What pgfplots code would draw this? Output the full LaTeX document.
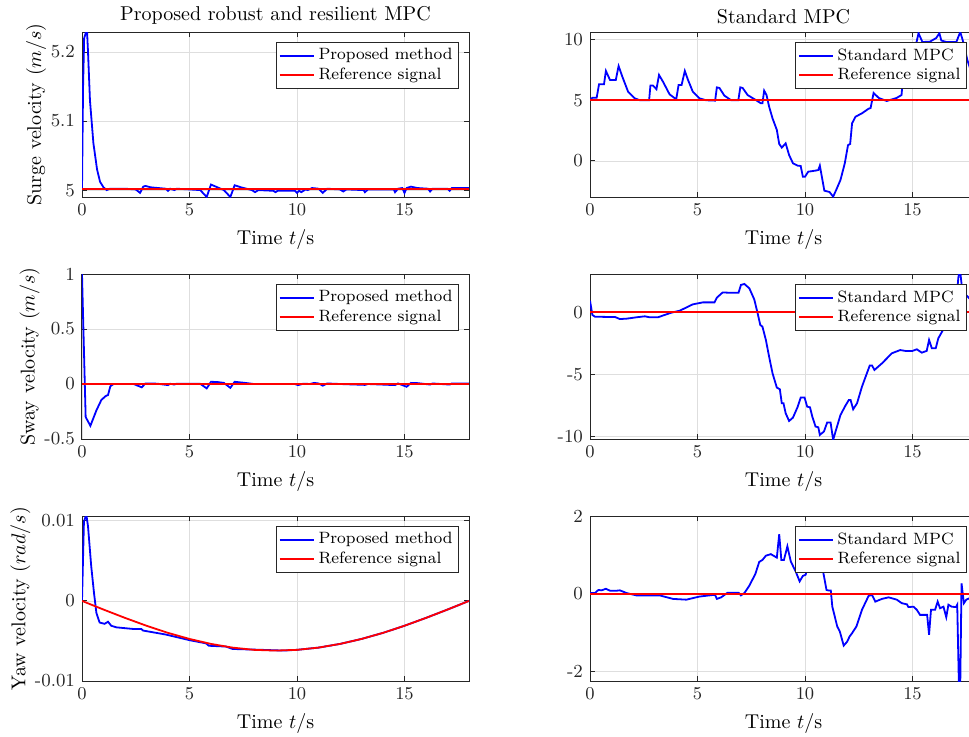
\documentclass[border=0pt]{standalone}
\usepackage{pgfplots}
\pgfplotsset{compat=1.18}
\definecolor{axgray}{rgb}{0.15,0.15,0.15}
\pgfplotsset{
 every axis title/.style={at={(0.5,1)}, anchor=south, yshift=0.5pt},
 myax/.style={scale only axis, width=193.5pt, height=82.5pt, xmin=0, xmax=18,
  xtick={0,5,10,15}, grid=major, major grid style={black!13, line width=0.4pt},
  axis line style={color=axgray, line width=0.5pt},
  tick style={color=axgray, line width=0.5pt}, major tick length=2.5pt,
  scaled y ticks=false, scaled x ticks=false,
  ticklabel style={font=\fontsize{9.2}{10}\selectfont, text=axgray},
  label style={font=\fontsize{10}{12}\selectfont},
  title style={font=\fontsize{10}{12}\selectfont},
  ylabel shift=-4.5pt,
  xlabel={Time $t/$s},
  legend style={font=\fontsize{8.2}{9.5}\selectfont, draw=axgray, line width=0.5pt,
   at={(1,1)}, xshift=-5pt, yshift=-5pt, anchor=north east, inner sep=1pt,
   row sep=-1.5pt},
  legend cell align=left,
  legend image code/.code={\draw[##1] (0pt,0pt) -- (17pt,0pt);},
  every axis plot/.append style={line width=0.9pt},
 },
 bl/.style={color=blue, line width=0.9pt},
 rd/.style={color=red, line width=0.9pt},
}
\begin{document}
\begin{tikzpicture}
\useasboundingbox (0,0) rectangle (484.5pt,368pt);
% ---------- Panel 1
\begin{axis}[myax, anchor=south west, at={(41pt,269.5pt)},
 ymin=4.99, ymax=5.229, ytick={5,5.1,5.2}, yticklabels={5,5.1,5.2},
 title={Proposed robust and resilient MPC}, ylabel={Surge velocity $(m/s)$}]
\addplot[bl] coordinates {(0,5.0)(0.05,5.15)(0.1,5.22)(0.16,5.226)(0.22,5.24)(0.28,5.2)(0.37,5.13)(0.53,5.068)(0.7,5.03)(0.84,5.012)(1.0,5.004)(1.15,5.0)(1.3,5.002)(2.0,5.002)(2.5,5.001)(2.7,4.996)(2.85,5.005)(2.95,5.006)(3.2,5.004)(3.9,5.002)(4.0,4.999)(4.1,5.002)(4.3,5.0)(4.4,5.002)(5.0,5.001)(5.5,5.0)(5.8,4.99)(6.0,5.008)(6.3,5.004)(6.6,5.0)(6.9,4.99)(7.1,5.007)(7.4,5.004)(7.9,5.0)(8.05,4.997)(8.2,5.0)(8.9,4.999)(9.0,4.997)(9.1,4.999)(9.9,4.999)(10.0,4.996)(10.1,4.999)(10.2,4.997)(10.4,5.001)(10.5,5.0)(10.7,5.003)(11.0,5.002)(11.2,4.996)(11.4,5.002)(12.0,5.001)(12.15,4.998)(12.3,5.001)(13.1,5.0)(13.16,4.997)(13.3,5.001)(14.5,5.001)(14.56,4.997)(14.7,5.002)(14.9,5.003)(15.0,4.996)(15.1,5.003)(15.3,5.005)(15.6,5.003)(16.1,5.002)(16.19,4.998)(16.3,5.002)(17.0,5.002)(17.1,4.999)(17.2,5.003)(18,5.003)};
\addplot[rd] coordinates {(0,5.002)(18,5.002)};
\legend{Proposed method, Reference signal}
\end{axis}
% ---------- Panel 2
\begin{axis}[myax, anchor=south west, at={(295pt,269.5pt)},
 ymin=-2.96, ymax=10.6, ytick={0,5,10}, yticklabels={0,5,10},
 title={Standard MPC}]
\addplot[bl] coordinates {(0,5.0)(0.11,5.2)(0.31,5.2)(0.42,6.3)(0.65,6.3)(0.74,7.4)(0.93,6.66)(1.2,6.66)(1.33,7.8)(1.51,6.9)(1.77,5.7)(2.08,5.15)(2.31,5.0)(2.75,5.0)(2.81,6.2)(2.93,6.2)(3.09,5.9)(3.21,7.07)(3.4,6.5)(3.7,5.48)(4.01,5.07)(4.12,6.25)(4.26,6.25)(4.41,7.4)(4.55,6.7)(4.78,5.7)(5.09,5.15)(5.4,4.99)(5.82,4.96)(5.9,6.05)(6.02,6.0)(6.25,5.37)(6.56,5.0)(6.9,5.0)(6.99,6.05)(7.1,6.0)(7.33,5.42)(7.72,5.0)(7.95,4.74)(8.02,4.74)(8.1,5.78)(8.21,5.42)(8.33,4.47)(8.49,3.5)(8.69,2.55)(8.8,1.4)(8.92,1.1)(9.1,1.45)(9.26,0.49)(9.44,-0.19)(9.65,-0.38)(9.8,-0.41)(9.9,-1.29)(10.0,-1.29)(10.15,-0.88)(10.49,-0.79)(10.62,-0.74)(10.69,-0.38)(10.9,-2.44)(11.14,-2.55)(11.31,-2.93)(11.45,-2.38)(11.65,-1.56)(11.85,-0.19)(12.0,1.3)(12.1,1.4)(12.19,3.1)(12.35,3.64)(12.65,3.92)(12.96,4.3)(13.05,4.35)(13.19,5.59)(13.43,5.18)(13.8,4.93)(14.26,5.18)(14.49,5.42)(14.54,6.5)(14.8,8.5)(15.0,9.4)(15.19,9.78)(15.28,10.5)(15.46,9.78)(15.8,9.8)(16.1,10.1)(16.25,10.5)(16.34,9.9)(16.57,9.78)(17.04,9.78)(17.22,10.6)(17.36,9.78)(17.55,8.3)(17.7,7.5)};
\addplot[rd] coordinates {(0,5)(18,5)};
\legend{Standard MPC, Reference signal}
\end{axis}
% ---------- Panel 3
\begin{axis}[myax, anchor=south west, at={(41pt,148.5pt)},
 ymin=-0.5, ymax=1, ytick={-0.5,0,0.5,1}, yticklabels={-0.5,0,0.5,1},
 ylabel={Sway velocity $(m/s)$}]
\addplot[bl] coordinates {(0,1.0)(0.17,-0.3)(0.39,-0.38)(0.67,-0.24)(0.9,-0.145)(1.1,-0.11)(1.21,-0.1)(1.32,-0.02)(1.47,0.0)(2.4,0.0)(2.78,-0.03)(2.95,0.005)(3.5,0.003)(4.0,-0.01)(4.1,0.002)(4.3,-0.005)(4.4,0.003)(5.5,0.002)(5.8,-0.04)(6.0,0.02)(6.3,0.018)(6.6,0.01)(6.9,-0.035)(7.1,0.02)(7.5,0.012)(8.0,0.0)(9,0)(9.9,0.0)(10.05,-0.01)(10.3,0.003)(10.6,0.0)(10.8,0.01)(11.0,0.005)(11.2,-0.015)(11.4,0.005)(12,0.0)(13.16,-0.008)(13.3,0.0)(14.56,-0.01)(14.7,0.005)(15.1,-0.025)(15.3,0.01)(15.6,0.008)(16.2,-0.005)(16.3,0.005)(17.1,-0.005)(17.2,0.005)(18,0.005)};
\addplot[rd] coordinates {(0,0)(18,0)};
\legend{Proposed method, Reference signal}
\end{axis}
% ---------- Panel 4
\begin{axis}[myax, anchor=south west, at={(295pt,148.5pt)},
 ymin=-10.18, ymax=3.08, ytick={-10,-5,0}, yticklabels={-10,-5,0}]
\addplot[bl] coordinates {(0,0.94)(0.11,-0.21)(0.23,-0.35)(0.77,-0.37)(1.16,-0.37)(1.39,-0.54)(1.7,-0.51)(2.16,-0.4)(2.55,-0.32)(2.78,-0.4)(3.16,-0.4)(3.47,-0.21)(3.78,-0.03)(4.17,0.13)(4.4,0.32)(4.78,0.64)(5.25,0.8)(5.79,0.8)(5.9,1.18)(6.17,1.6)(6.4,1.58)(6.91,1.58)(7.02,2.2)(7.18,2.28)(7.41,1.93)(7.64,1.04)(7.79,-0.03)(7.92,-1.02)(8.02,-1.15)(8.18,-2.22)(8.33,-3.56)(8.49,-4.9)(8.69,-6.05)(8.83,-6.18)(8.92,-7.31)(9.0,-7.31)(9.1,-8.11)(9.26,-8.73)(9.44,-8.46)(9.65,-7.63)(9.8,-6.85)(9.98,-6.85)(10.1,-7.58)(10.23,-7.63)(10.34,-8.38)(10.49,-9.18)(10.62,-9.24)(10.69,-9.85)(10.88,-9.58)(11.03,-8.86)(11.19,-8.86)(11.31,-10.25)(11.42,-9.58)(11.65,-8.25)(11.88,-7.5)(12.04,-7.04)(12.12,-7.04)(12.24,-7.79)(12.42,-7.31)(12.65,-5.97)(13.01,-4.28)(13.12,-4.28)(13.23,-4.63)(13.58,-4.1)(14.04,-3.29)(14.43,-3.03)(14.66,-3.1)(15.0,-3.1)(15.2,-2.97)(15.43,-3.24)(15.66,-3.1)(15.77,-2.22)(15.9,-2.89)(16.08,-2.89)(16.2,-2.09)(16.44,-1.35)(16.7,-0.6)(16.95,0.3)(17.05,1.15)(17.13,2.75)(17.2,3.55)(17.3,2.0)(17.43,1.15)(17.55,1.3)(17.7,1.0)};
\addplot[rd] coordinates {(0,0)(18,0)};
\legend{Standard MPC, Reference signal}
\end{axis}
% ---------- Panel 5
\begin{axis}[myax, anchor=south west, at={(41pt,27.5pt)},
 ymin=-0.01, ymax=0.0106, ytick={-0.01,0,0.01}, yticklabels={-0.01,0,0.01},
 ylabel={Yaw velocity $(rad/s)$}]
\addplot[bl] coordinates {(0,0)(0.09,0.00988)(0.2,0.0108)(0.28,0.0093)(0.43,0.0043)(0.56,0.00095)(0.67,-0.0015)(0.82,-0.0027)(1.05,-0.00286)(1.21,-0.0026)(1.36,-0.0031)(1.6,-0.0033)(2.37,-0.0035)(2.76,-0.0035)(2.84,-0.0037)(3.9,-0.0042)(5.0,-0.0049)(5.77,-0.0053)(5.9,-0.0056)(6.7,-0.0057)(7.0,-0.006)(8.27,-0.0061)(9.35,-0.0062)(10,-0.00611)(11,-0.00583)(12,-0.00537)(13,-0.00475)(14,-0.00399)(15,-0.0031)(16,-0.00212)(17,-0.00108)(18,0)};
\addplot[rd] coordinates {(0,0)(1,-0.00108)(2,-0.00212)(3,-0.0031)(4,-0.00399)(5,-0.00475)(6,-0.00537)(7,-0.00583)(8,-0.00611)(9,-0.0062)(10,-0.00611)(11,-0.00583)(12,-0.00537)(13,-0.00475)(14,-0.00399)(15,-0.0031)(16,-0.00212)(17,-0.00108)(18,0)};
\legend{Proposed method, Reference signal}
\end{axis}
% ---------- Panel 6
\begin{axis}[myax, anchor=south west, at={(295pt,27.5pt)},
 ymin=-2.24, ymax=2.0, ytick={-2,0,2}, yticklabels={-2,0,2}]
\addplot[bl] coordinates {(0,0.02)(0.23,0.02)(0.39,0.1)(0.54,0.09)(0.74,0.13)(0.93,0.08)(1.23,0.08)(1.39,0.09)(1.7,0.02)(2.16,-0.04)(2.62,-0.04)(3.24,-0.04)(3.86,-0.13)(4.48,-0.15)(5.09,-0.07)(5.71,-0.03)(5.82,-0.03)(5.9,-0.13)(6.1,-0.09)(6.4,0.03)(6.91,0.03)(7.02,-0.04)(7.18,0.02)(7.41,0.21)(7.69,0.51)(7.87,0.82)(8.02,0.87)(8.18,0.98)(8.41,1.02)(8.69,0.93)(8.8,1.53)(8.9,0.87)(9.02,0.87)(9.18,1.22)(9.34,0.83)(9.57,0.57)(9.75,0.32)(9.9,0.46)(10.03,0.49)(10.1,0.66)(10.3,0.9)(10.6,0.95)(10.8,0.7)(11.0,0.1)(11.1,0.086)(11.2,0.086)(11.27,-0.33)(11.5,-0.84)(11.62,-0.97)(11.8,-1.33)(11.96,-1.23)(12.07,-1.1)(12.19,-1.01)(12.39,-0.84)(12.65,-0.41)(12.96,-0.05)(13.12,-0.03)(13.27,-0.2)(13.58,-0.13)(13.89,-0.09)(14.27,-0.15)(14.5,-0.24)(14.74,-0.27)(14.81,-0.34)(15.05,-0.33)(15.2,-0.41)(15.35,-0.54)(15.59,-0.54)(15.68,-0.54)(15.77,-1.05)(15.86,-0.41)(16.05,-0.41)(16.17,-0.2)(16.28,-0.37)(16.44,-0.33)(16.57,-0.6)(16.67,-0.28)(16.82,-0.33)(17.02,-0.34)(17.08,-0.28)(17.16,-2.4)(17.22,-2.4)(17.28,0.27)(17.39,-0.24)(17.5,-0.15)(17.7,-0.1)};
\addplot[rd] coordinates {(0,0)(18,0)};
\legend{Standard MPC, Reference signal}
\end{axis}
\end{tikzpicture}
\end{document}
